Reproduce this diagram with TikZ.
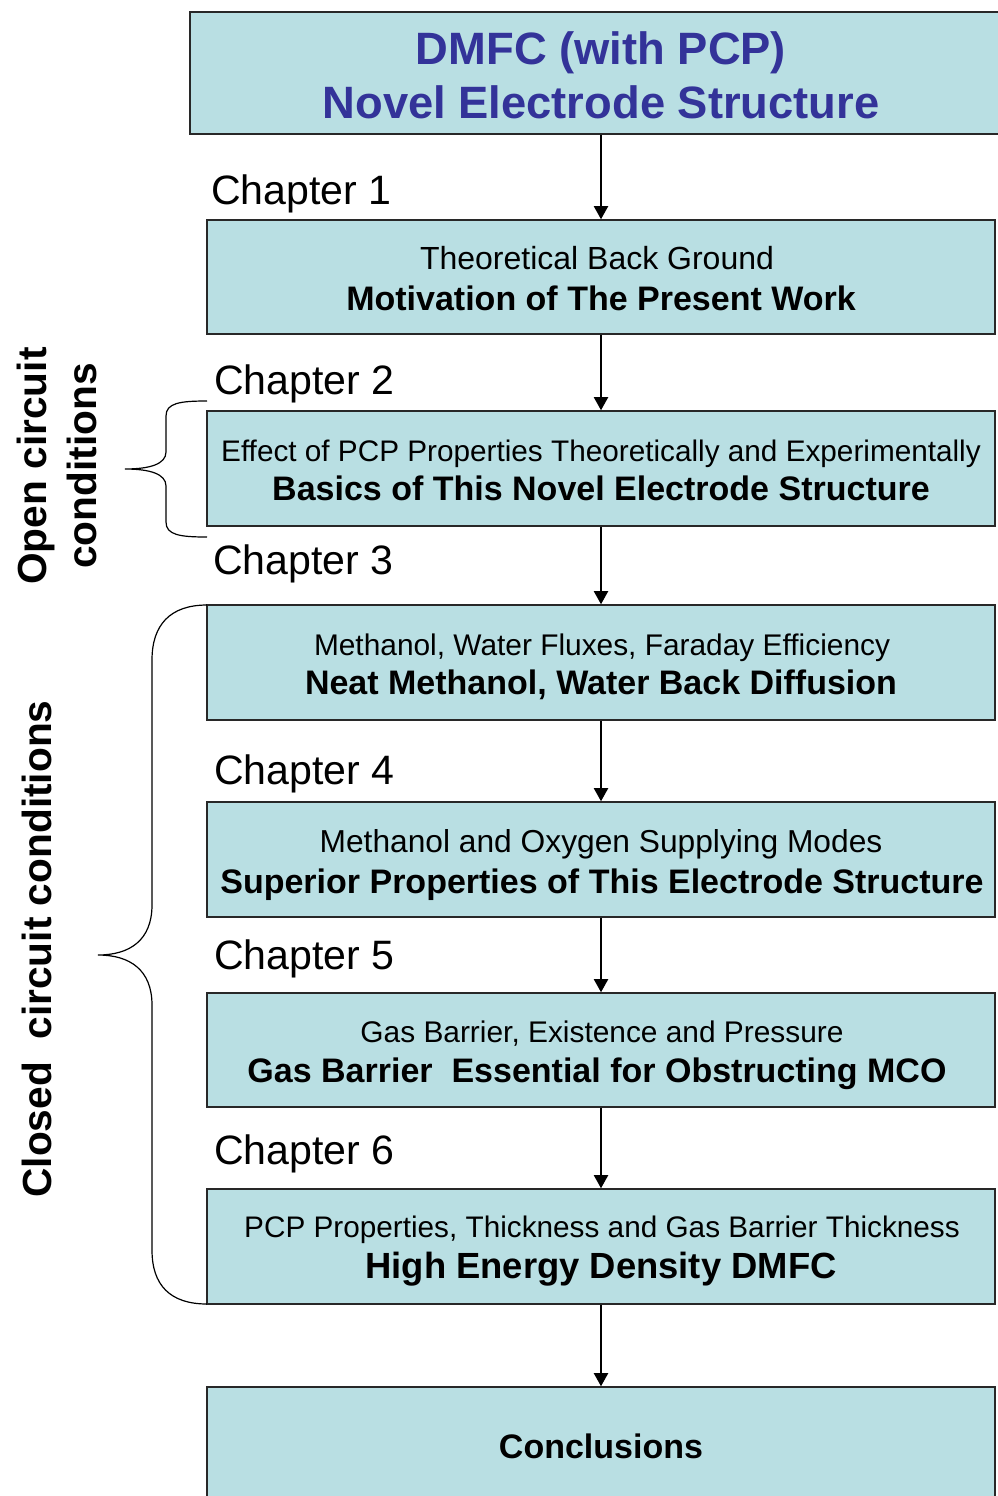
\documentclass[tikz,border=0pt]{standalone}
\usepackage{fontspec}
\setmainfont{Liberation Sans}
\usetikzlibrary{arrows.meta}
\definecolor{boxfill}{RGB}{185,223,227}
\definecolor{titleblue}{RGB}{51,51,153}
\definecolor{edge}{RGB}{40,40,40}
\begin{document}
\begin{tikzpicture}[x=0.75pt,y=-0.75pt,
  box/.style={draw=edge, line width=1pt, fill=boxfill, inner sep=0pt},
  chap/.style={anchor=base west, inner sep=0pt, font=\fontsize{30.8}{36}\selectfont},
  sub/.style={anchor=base, inner sep=0pt},
  main/.style={anchor=base, inner sep=0pt, font=\fontsize{25.5}{30}\selectfont\bfseries},
  ttl/.style={anchor=base, inner sep=0pt, text=titleblue, font=\fontsize{34}{40}\selectfont\bfseries},
  side/.style={inner sep=0pt, rotate=90, align=center, font=\fontsize{30.5}{37.5}\selectfont\bfseries},
  arr/.style={line width=2pt, -{Triangle[length=10pt,width=10.5pt]}},
  brace/.style={line width=0.9pt}]
\useasboundingbox (0,0) rectangle (998,1496);

% boxes
\node[box, minimum width={809*0.75pt}, minimum height={122*0.75pt}] (b0) at (594.5,73) {};
\node[box, minimum width={788*0.75pt}, minimum height={114*0.75pt}] (b1) at (601,277) {};
\node[box, minimum width={788*0.75pt}, minimum height={115*0.75pt}] (b2) at (601,468.5) {};
\node[box, minimum width={788*0.75pt}, minimum height={115*0.75pt}] (b3) at (601,662.5) {};
\node[box, minimum width={788*0.75pt}, minimum height={115*0.75pt}] (b4) at (601,859.5) {};
\node[box, minimum width={788*0.75pt}, minimum height={114*0.75pt}] (b5) at (601,1050) {};
\node[box, minimum width={788*0.75pt}, minimum height={115*0.75pt}] (b6) at (601,1246.5) {};
\node[box, minimum width={788*0.75pt}, minimum height={125*0.75pt}] (b7) at (601,1449.5) {};

% box texts
\node[ttl] (t0a) at (601,64) {DMFC (with PCP)};
\node[ttl] (t0b) at (601,118) {Novel Electrode Structure};
\node[sub, font=\fontsize{24}{28}\selectfont] (t1a) at (597,269) {Theoretical Back Ground};
\node[main] (t1b) at (601,310) {Motivation of The Present Work};
\node[sub, font=\fontsize{22.3}{28}\selectfont] (t2a) at (601,461) {Effect of PCP Properties Theoretically and Experimentally};
\node[main] (t2b) at (601,500) {Basics of This Novel Electrode Structure};
\node[sub, font=\fontsize{22.4}{28}\selectfont] (t3a) at (602,655) {Methanol, Water Fluxes, Faraday Efficiency};
\node[main] (t3b) at (601,694) {Neat Methanol, Water Back Diffusion};
\node[sub, font=\fontsize{23.8}{28}\selectfont] (t4a) at (601,852) {Methanol and Oxygen Supplying Modes};
\node[main] (t4b) at (602,893) {Superior Properties of This Electrode Structure};
\node[sub, font=\fontsize{22.4}{28}\selectfont] (t5a) at (602,1042) {Gas Barrier, Existence and Pressure};
\node[main] (t5b) at (597,1082) {Gas Barrier\ \ Essential for Obstructing MCO};
\node[sub, font=\fontsize{22.3}{28}\selectfont] (t6a) at (602,1237) {PCP Properties, Thickness and Gas Barrier Thickness};
\node[main, font=\fontsize{27.3}{30}\selectfont\bfseries] (t6b) at (601,1278) {High Energy Density DMFC};
\node[main] (t7) at (601,1458) {Conclusions};

% chapter labels
\node[chap] (c1) at (211,204) {Chapter 1};
\node[chap] (c2) at (214,394) {Chapter 2};
\node[chap] (c3) at (213,574) {Chapter 3};
\node[chap] (c4) at (214,784) {Chapter 4};
\node[chap] (c5) at (214,969) {Chapter 5};
\node[chap] (c6) at (214,1164) {Chapter 6};

% arrows
\draw[arr] (b0.south -| b1.north) -- (b1.north);
\draw[arr] (b1.south) -- (b2.north);
\draw[arr] (b2.south) -- (b3.north);
\draw[arr] (b3.south) -- (b4.north);
\draw[arr] (b4.south) -- (b5.north);
\draw[arr] (b5.south) -- (b6.north);
\draw[arr] (b6.south) -- (b7.north);

% braces
\draw[brace] (207,401) .. controls (180,401) and (166,403) .. (166,416)
  -- (166,452) .. controls (166,464) and (150,469) .. (125,469)
  .. controls (150,469) and (166,474) .. (166,486)
  -- (166,522) .. controls (166,535) and (180,537) .. (207,537);
\draw[brace] (207,605) .. controls (170,605) and (152,625) .. (152,660)
  -- (152,905) .. controls (152,940) and (130,955) .. (98,955)
  .. controls (130,955) and (152,970) .. (152,1005)
  -- (152,1250) .. controls (152,1285) and (170,1304) .. (207,1304);

% side labels
\node[side] (open) at (57,466) {Open circuit\\conditions};
\node[side] (closed) at (37,949) {Closed\ \ circuit conditions};
\end{tikzpicture}
\end{document}
